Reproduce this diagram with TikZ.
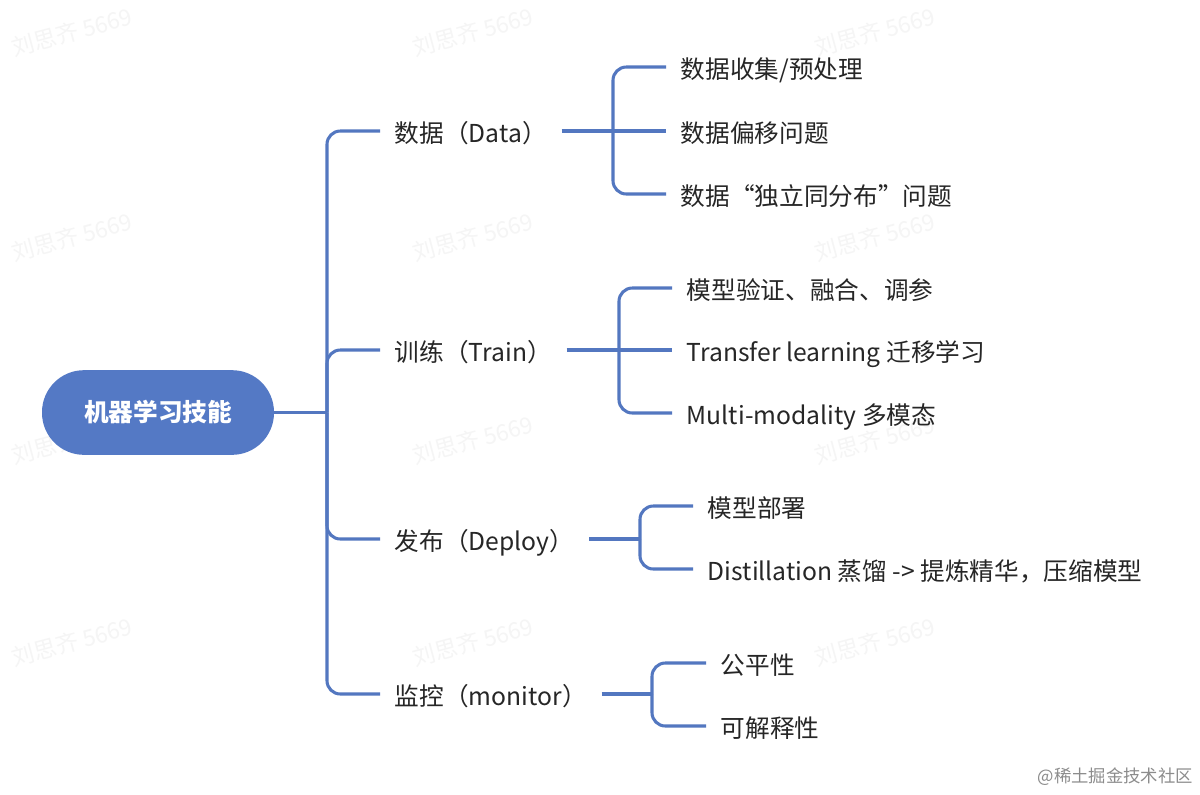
\documentclass[tikz,border=0pt]{standalone}
\usepackage{fontspec}
\setmainfont{Noto Sans CJK SC}
\definecolor{lineblue}{HTML}{5377C0}
\definecolor{rootblue}{HTML}{5479C5}
\definecolor{txt}{HTML}{262626}
\begin{document}
\begin{tikzpicture}[x=0.75pt,y=-0.75pt,
  conn/.style={draw=lineblue, line width=2.3pt},
  roundconn/.style={conn, rounded corners=10pt},
  rootnode/.style={fill=rootblue, draw=none, rounded corners=31.5pt,
    minimum width=174pt, minimum height=63.5pt, text=white,
    font=\fontsize{18.5pt}{20pt}\selectfont\bfseries},
  lab/.style={anchor=west, inner xsep=11pt, inner ysep=2pt, text=txt,
    text height=20pt, text depth=2.5pt,
    font=\fontsize{18.5pt}{20pt}\selectfont},
  wm/.style={text=black!4, rotate=15, font=\fontsize{17pt}{19pt}\selectfont},
  credit/.style={anchor=east, inner sep=0pt, text=black!45,
    font=\fontsize{13pt}{15pt}\selectfont}]
\useasboundingbox (0,0) rectangle (1200,794);
\fill[white] (0,0) rectangle (1200,794);

% watermarks
\foreach \wx in {72,473,875}{
  \foreach \wy in {32,237,440,642}{
    \node[wm] (wm-\wx-\wy) at (\wx,\wy) {刘思齐 5669};
  }
}

% root
\node[rootnode] (root) at (158,412.5) {机器学习技能};
\coordinate (j0) at (327,412.5);

% level 1
\node[lab] (data) at (380,131) {数据（Data）};
\node[lab] (train) at (380,350) {训练（Train）};
\node[lab] (deploy) at (380,539) {发布（Deploy）};
\node[lab] (monitor) at (380,694) {监控（monitor）};

\draw[conn] (root.east) -- (j0);
\draw[roundconn] (j0) |- (data.west);
\draw[roundconn] (j0) |- (train.west);
\draw[roundconn] (j0) |- (deploy.west);
\draw[roundconn] (j0) |- (monitor.west);

% data children
\coordinate (jd) at (613,131);
\node[lab] (d1) at (666,67) {数据收集/预处理};
\node[lab] (d2) at (666,131) {数据偏移问题};
\node[lab] (d3) at (666,194) {数据“独立同分布”问题};
\draw[conn] (data.east) -- (jd);
\draw[roundconn] (jd) |- (d1.west);
\draw[conn] (jd) -- (d2.west);
\draw[roundconn] (jd) |- (d3.west);

% train children
\coordinate (jt) at (619,350);
\node[lab] (t1) at (672,288) {模型验证、融合、调参};
\node[lab] (t2) at (672,350) {Transfer learning 迁移学习};
\node[lab] (t3) at (672,413) {Multi-modality 多模态};
\draw[conn] (train.east) -- (jt);
\draw[roundconn] (jt) |- (t1.west);
\draw[conn] (jt) -- (t2.west);
\draw[roundconn] (jt) |- (t3.west);

% deploy children
\coordinate (jp) at (640,539);
\node[lab] (p1) at (693,506) {模型部署};
\node[lab] (p2) at (693,569) {Distillation 蒸馏 -> 提炼精华，压缩模型};
\draw[conn] (deploy.east) -- (jp);
\draw[roundconn] (jp) |- (p1.west);
\draw[roundconn] (jp) |- (p2.west);

% monitor children
\coordinate (jm) at (652,694);
\node[lab] (m1) at (706,663) {公平性};
\node[lab] (m2) at (706,726) {可解释性};
\draw[conn] (monitor.east) -- (jm);
\draw[roundconn] (jm) |- (m1.west);
\draw[roundconn] (jm) |- (m2.west);

% credit
\node[credit] (credit) at (1193,777) {@稀土掘金技术社区};
\end{tikzpicture}
\end{document}
